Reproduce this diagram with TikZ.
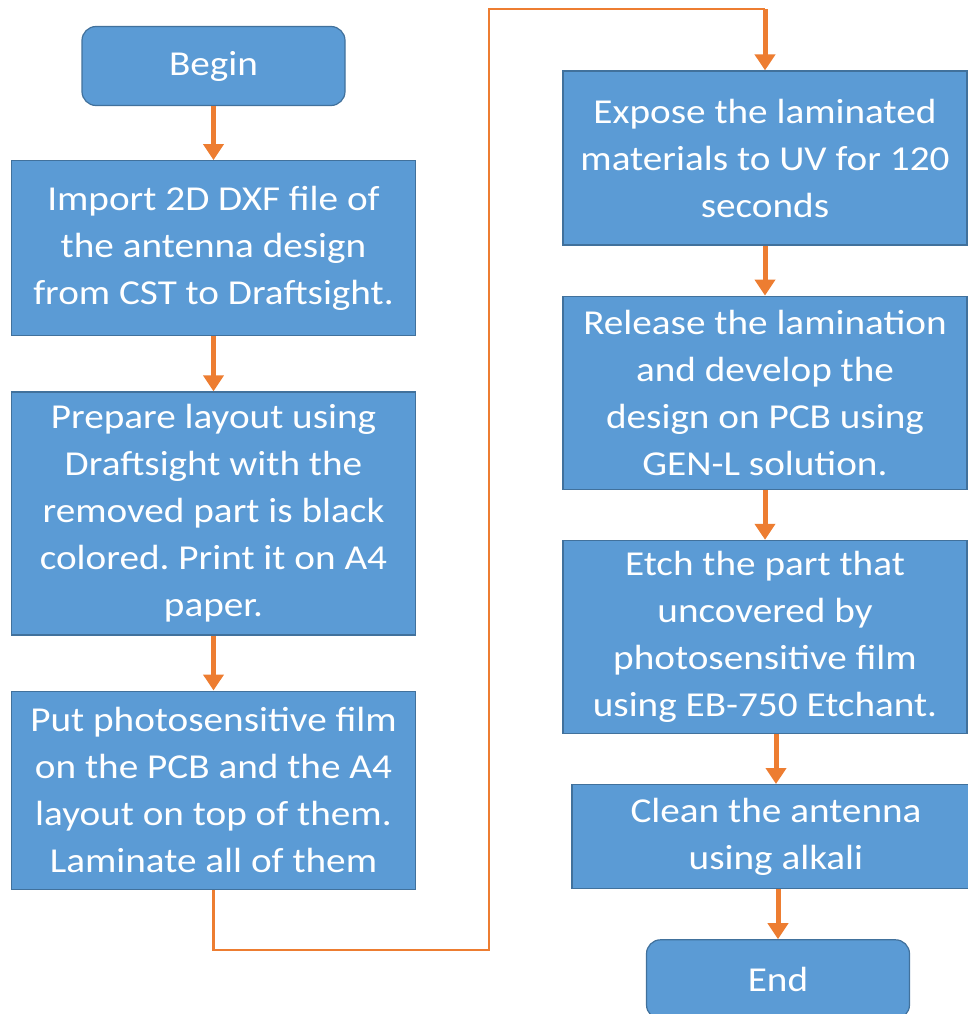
\documentclass[tikz,border=0pt]{standalone}
\usepackage{fontspec}
\setmainfont{Carlito}[FakeStretch=1.12]
\usepackage{xcolor}
\usepackage{tikz}
\usetikzlibrary{arrows.meta, positioning}
\definecolor{stepfill}{HTML}{5B9BD5}
\definecolor{stepline}{HTML}{41719C}
\definecolor{flowline}{HTML}{ED7D31}
\frenchspacing
\tikzset{
  box/.style  ={draw=stepline, line width=1.2pt, fill=stepfill, text=white,
                minimum width=404pt, align=center, inner sep=0pt,
                font=\fontsize{35}{47}\selectfont},
  term/.style ={box, rounded corners=14pt, minimum width=263pt, minimum height=79pt},
  flow/.style ={-{Triangle[length=16pt,width=20pt]}, line width=5pt, draw=flowline},
  link/.style ={line width=2.8pt, draw=flowline}
}

\begin{document}
\begin{tikzpicture}[node distance=55pt]
  \useasboundingbox (0,0) rectangle (967pt,-1014pt);

  \node[term] (begin) at (213.5pt,-66pt) {Begin};
  \node[box, below=54pt of begin, minimum height=175pt] (import) {Import 2D DXF file of\\the antenna design\\from CST to Draftsight.};
  \node[box, below=of import, minimum height=243pt] (layout) {Prepare layout using\\Draftsight with the\\removed part is black\\colored. Print it on A4\\paper.};
  \node[box, below=of layout, minimum height=198pt] (laminate) {Put photosensitive film\\on the PCB and the A4\\layout on top of them.\\Laminate all of them};

  \node[box, minimum height=174pt] (expose) at (765pt,-158pt) {Expose the laminated\\materials to UV for 120\\seconds};
  \node[box, below=50pt of expose, minimum height=193pt] (release) {Release the lamination\\and develop the\\design on PCB using\\GEN-L solution.};
  \node[box, below=50pt of release, minimum height=193pt] (etch) {Etch the part that\\uncovered by\\photosensitive film\\using EB-750 Etchant.};
  \node[box, below=50pt of etch, xshift=11pt, minimum width=408pt, minimum height=104pt] (clean) {Clean the antenna\\using alkali};
  \node[term, below=50pt of clean, xshift=2pt] (end) {End};

  \coordinate (gapbot) at (489pt,-950pt);
  \coordinate (gaptop) at (489pt,-9pt);

  \draw[flow] (begin) -- (import);
  \draw[flow] (import) -- (layout);
  \draw[flow] (layout) -- (laminate);
  \draw[link] (laminate.south) |- (gapbot) -- (gaptop) -- (gaptop -| expose.north);
  \draw[flow] (gaptop -| expose.north) -- (expose.north);
  \draw[flow] (expose) -- (release);
  \draw[flow] (release) -- (etch);
  \draw[flow] (etch.south -| clean.north) -- (clean.north);
  \draw[flow] (clean.south -| end.north) -- (end.north);
\end{tikzpicture}
\end{document}
